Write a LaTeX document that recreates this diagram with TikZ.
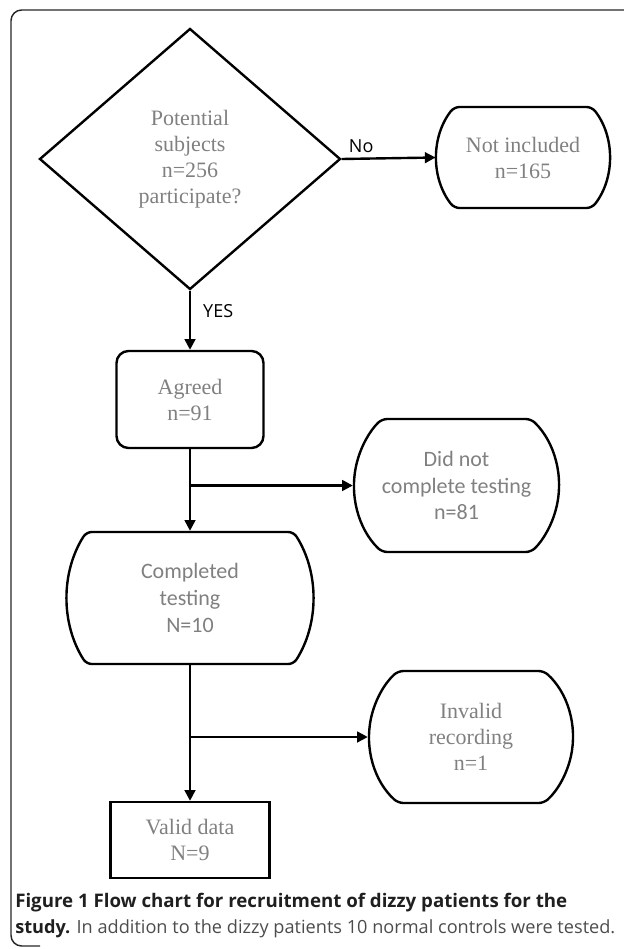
\documentclass[tikz,border=0pt]{standalone}
\usepackage{fontspec}
\setmainfont{Liberation Serif}
\newfontfamily\boxsans{Carlito}
\newfontfamily\capfont{Open Sans}
\usetikzlibrary{shapes.geometric,shapes.misc,arrows.meta,positioning}
\definecolor{mygray}{gray}{0.5}
\definecolor{capgray}{gray}{0.3}

\begin{document}
\begin{tikzpicture}[x=0.75pt,y=-0.75pt,
    every node/.style={text=mygray, align=center, font=\fontsize{16.5}{19.5}\selectfont},
    decision/.style={diamond, draw=black, line width=1.8pt, inner sep=0pt,
        minimum width=225.75pt, minimum height=195.75pt},
    terminal/.style={rounded rectangle, draw=black, line width=1.8pt, inner sep=0pt,
        rounded corners=4pt},
    process/.style={rectangle, draw=black, line width=1.8pt, inner sep=0pt},
    sanstext/.style={font=\boxsans\fontsize{16.5}{20}\selectfont},
    flow/.style={line width=1.8pt, -{Triangle[length=8pt,width=8pt]}},
    flowlabel/.style={text=black, inner sep=1pt, font=\capfont\fontsize{13.5}{16}\selectfont}]
\useasboundingbox (0,0) rectangle (624,949);
% outer frame
\draw[line width=1.1pt, draw=black!85, rounded corners=8pt] (630,10) -- (11,10) -- (11,946) -- (40,946);

% boxes
\node[decision] (subjects) at (190,159) {Potential\\subjects\\n=256\\participate?};
\node[terminal, rounded rectangle arc length=76, minimum width=129.4pt, minimum height=75.75pt] (notincl) at (523,157.5) {Not included\\n=165};
\node[process, rounded corners=9pt, minimum width=110.25pt, minimum height=72.75pt] (agreed) at (190,399.5) {Agreed\\n=91};
\node[terminal, sanstext, rounded rectangle arc length=91, minimum width=153.75pt, minimum height=99.75pt] (notdone) at (456.5,485.5) {Did not\\complete testing\\n=81};
\node[terminal, sanstext, rounded rectangle arc length=65, minimum width=132.75pt, minimum height=99pt] (done) at (190,598) {Completed\\testing\\N=10};
\node[terminal, rounded rectangle arc length=95, minimum width=153pt, minimum height=99pt] (invalid) at (471,737) {Invalid\\recording\\n=1};
\node[process, minimum width=119.25pt, minimum height=57pt] (valid) at (190,840) {Valid data\\N=9};

% connectors
\draw[flow] (subjects.east) -- (notincl.west) node[flowlabel, pos=0.05, anchor=south west, yshift=3pt] (no) {No};
\draw[flow] (subjects.south) -- (agreed.north) node[flowlabel, pos=0.35, anchor=west, xshift=8pt] (yes) {YES};
\draw[flow] (agreed.south) -- (done.north);
\coordinate (split1) at (agreed.south |- notdone.west);
\draw[flow] (split1) -- (notdone.west);
\draw[flow] (done.south) -- (valid.north);
\coordinate (split2) at (done.south |- invalid.west);
\draw[flow] (split2) -- (invalid.west);

% caption
\node[anchor=base west, inner sep=0pt, text=black!88, font=\capfont\bfseries\fontsize{13.6}{19.5}\selectfont] (cap1) at (15,907)
    {\resizebox{414pt}{!}{Figure 1 Flow chart for recruitment of dizzy patients for the}};
\node[anchor=base west, inner sep=0pt, text=capgray, font=\capfont\fontsize{13.6}{19.5}\selectfont] (cap2) at (15,933)
    {\resizebox{450pt}{!}{\textcolor{black!88}{\bfseries study.} In addition to the dizzy patients 10 normal controls were tested.}};
\end{tikzpicture}
\end{document}
